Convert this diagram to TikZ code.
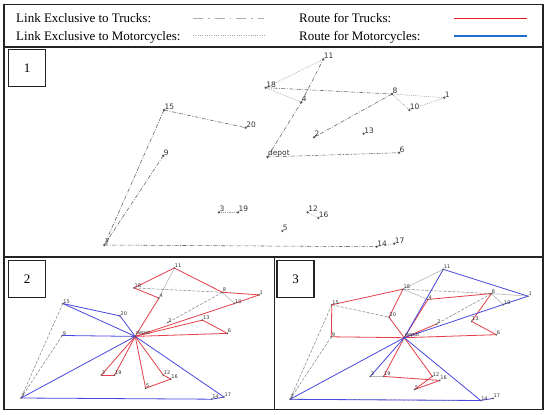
\documentclass[tikz,border=0pt]{standalone}
\usepackage{fontspec}
\setmainfont{Liberation Serif}
\newfontfamily\labfont{DejaVu Sans}
\definecolor{legred}{RGB}{232,25,35}
\definecolor{legblue}{RGB}{30,110,210}
\definecolor{rred}{RGB}{228,62,72}
\definecolor{rblue}{RGB}{72,72,225}
\definecolor{framec}{RGB}{35,35,35}
\definecolor{dotc}{RGB}{90,90,90}

\newcommand{\setpts}[4]{%
  \foreach \n/\px/\py in {depot/267.5/157,1/444.3/97.7,2/314/137.3,3/219/212.3,4/301.3/102.3,5/282.3/231,6/399/152.7,7/104.3/245,8/392/94,9/163.3/155.7,10/409.3/110,11/323.3/59.3,12/307.7/212.3,13/363.7/133.7,14/376.7/246.7,15/164/110,16/318.3/218,17/394.3/243.7,18/265.7/87.7,19/238/212.3,20/245.7/127.7}{%
    \coordinate (#1-\n) at ({#2+#4*(\px-104.3)},{#3+#4*(\py-245)});}}

\newcommand{\dotslabels}[3]{%
  \foreach \n in {depot,1,2,3,4,5,6,7,8,9,10,11,12,13,14,15,16,17,18,19,20}{%
    \fill[dotc] (#1-\n) circle (#2);
    \node[font=\labfont\fontsize{#3}{#3}\selectfont, text=black!80, inner sep=0pt, anchor=south west] at ([xshift=0.4pt,yshift=0.2pt]#1-\n) {\n};}}

\tikzset{
  x=1pt, y=-1pt,
  framel/.style={draw=framec, line width=1.3pt},
  numbox/.style={draw=framec, line width=1.3pt, minimum width=37pt, minimum height=37pt, inner sep=0pt, font=\fontsize{13}{15}\selectfont},
  legtext/.style={anchor=base west, inner sep=0pt, font=\fontsize{13}{15}\selectfont},
  trkone/.style={draw=black!62, line width=0.55pt, dash pattern=on 4pt off 1.5pt on 0.8pt off 1.5pt},
  motone/.style={draw=black!42, line width=0.55pt, dash pattern=on 0.8pt off 1.1pt},
  legtrk/.style={draw=black!32, line width=1.5pt, dash pattern=on 10pt off 5pt on 1.5pt off 5pt},
  legmot/.style={draw=black!35, line width=0.9pt, dash pattern=on 1pt off 1.3pt},
  greydash/.style={draw=black!50, line width=0.5pt, dash pattern=on 3pt off 1.5pt},
  greylight/.style={draw=black!28, line width=0.6pt},
  redroute/.style={draw=rred, line width=0.8pt},
  blueroute/.style={draw=rblue, line width=0.8pt}
}

\begin{document}
\begin{tikzpicture}
\useasboundingbox (0,0) rectangle (550,415);
\fill[white] (0,0) rectangle (550,415);

% frame
\draw[framel] (4,4.5) rectangle (543,409.5);
\draw[framel] (4,47) -- (543,47);
\draw[framel] (4,257) -- (543,257);
\draw[framel] (274.5,257) -- (274.5,409.5);

% legend
\node[legtext] (t1) at (16,23) {Link Exclusive to Trucks:};
\node[legtext] (t2) at (16,40) {Link Exclusive to Motorcycles:};
\node[legtext] (t3) at (299,23) {Route for Trucks:};
\node[legtext] (t4) at (299,40) {Route for Motorcycles:};
\coordinate (l1a) at (193,18.5); \coordinate (l1b) at (264,18.5);
\coordinate (l2a) at (193,35.5); \coordinate (l2b) at (265,35.5);
\coordinate (l3a) at (454,18.5); \coordinate (l3b) at (527,18.5);
\coordinate (l4a) at (454,36); \coordinate (l4b) at (527,36);
\draw[legtrk] (l1a) -- (l1b);
\draw[legmot] (l2a) -- (l2b);
\draw[draw=legred, line width=1.6pt] (l3a) -- (l3b);
\draw[draw=legblue, line width=1.6pt] (l4a) -- (l4b);

% panel numbers
\node[numbox] (b1) at (27,68.3) {1};
\node[numbox] (b2) at (27,279.3) {2};
\node[numbox] (b3) at (295.5,279.3) {3};

% ---------- panel 1 ----------
\setpts{a}{104.3}{245}{1}
\foreach \u/\v in {15/20,15/7,9/7,7/14,18/8,depot/4,4/11,8/2,depot/6}
  \draw[trkone] (a-\u) -- (a-\v);
\foreach \u/\v in {18/11,18/4,8/1,8/10,10/1,3/19,12/16,14/17}
  \draw[motone] (a-\u) -- (a-\v);
\dotslabels{a}{1.3pt}{7.5}

% ---------- panel 2 ----------
\setpts{b}{21}{398}{0.7}
\foreach \u/\v in {11/4,8/10}
  \draw[greylight] (b-\u) -- (b-\v);
\foreach \u/\v in {18/8,8/2,15/7,9/7}
  \draw[greydash] (b-\u) -- (b-\v);
\foreach \u/\v in {depot/4,4/18,18/11,11/8,8/1,1/10,10/depot,depot/13,13/6,6/depot,depot/3,3/19,19/depot,depot/12,12/16,16/5,5/depot}
  \draw[redroute] (b-\u) -- (b-\v);
\foreach \u/\v in {depot/20,20/15,15/depot,9/depot,depot/7,7/14,14/17,17/depot}
  \draw[blueroute] (b-\u) -- (b-\v);
\dotslabels{b}{0.9pt}{5}

% ---------- panel 3 ----------
\setpts{c}{290}{399.3}{0.7}
\foreach \u/\v in {11/18,18/4,8/1,8/10,3/19}
  \draw[greylight] (c-\u) -- (c-\v);
\foreach \u/\v in {18/8,8/2,15/20,15/7,9/7,7/14}
  \draw[greydash] (c-\u) -- (c-\v);
\foreach \u/\v in {15/18,18/20,20/depot,depot/9,9/15,depot/4,4/8,8/13,13/6,6/depot,depot/2,depot/19,19/16,16/5,5/12,12/depot}
  \draw[redroute] (c-\u) -- (c-\v);
\foreach \u/\v in {depot/11,11/1,1/depot,depot/3,depot/7,7/14,14/17,depot/14}
  \draw[blueroute] (c-\u) -- (c-\v);
\dotslabels{c}{0.9pt}{5}
\end{tikzpicture}
\end{document}
